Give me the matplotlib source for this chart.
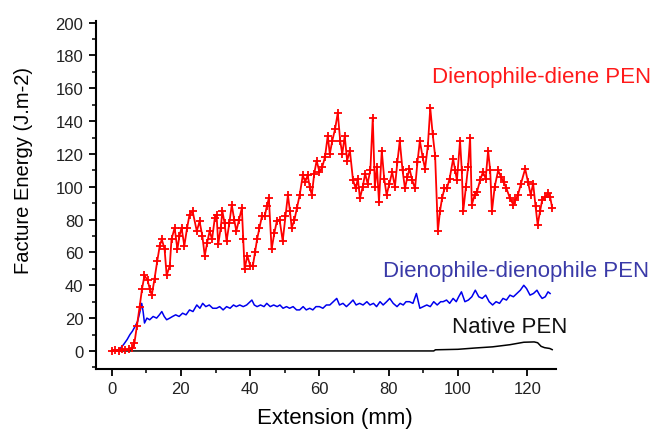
import matplotlib
matplotlib.use("Agg")
import matplotlib.pyplot as plt
from matplotlib.ticker import MultipleLocator

plt.rcParams['font.family'] = ['Liberation Sans', 'DejaVu Sans']

# ---------------- data ----------------
red_x = [0, 1, 2, 3, 4, 5, 6, 6.6, 7.3, 8.1, 8.8, 9.5, 10.4, 11, 11.6, 12.4, 13.2, 13.9, 14.5,
         15.3, 15.9, 16.8, 17.3, 18.2, 19, 19.6, 20.2, 21, 21.8, 22.5, 23.4, 24.6, 25.4, 26.2,
         26.9, 27.6, 28.3, 29, 29.8, 30.3, 30.8, 31.5, 32, 32.6, 33.2, 34, 34.7, 35.4, 36, 36.8,
         37.6, 38, 38.4, 39.2, 40, 40.8, 41.4, 42, 42.7, 43.4, 44.2, 44.8, 45.4, 46.2, 47, 47.7,
         48.5, 49.4, 50.2, 50.9, 51.5, 52, 52.8, 53.5, 54.3, 55.2, 55.9, 56.6, 57.2, 57.8, 58.5,
         59.2, 60, 60.8, 61.6, 62.4, 63, 63.7, 64.5, 65.3, 66, 66.6, 67.3, 68, 68.8, 69.7, 70.5,
         71.1, 71.7, 72.5, 73.2, 73.9, 74.7, 75.4, 76, 76.6, 77.2, 78, 78.7, 79.4, 80.2, 81, 81.8,
         82.5, 83.2, 84, 84.7, 85.4, 86, 86.8, 87.6, 88.3, 89, 89.8, 90.5, 91.3, 92, 92.7, 93.4,
         94.2, 94.8, 95.4, 96.1, 96.8, 97.6, 98.6, 99.2, 99.7, 100.6, 101.1, 101.5, 102.3, 102.9,
         103.5, 104, 104.8, 105.5, 106.4, 107.2, 108, 108.7, 109.3, 109.8, 110.6, 111.6, 112.4,
         113.2, 114, 115, 116, 116.6, 117.3, 118.2, 119.4, 120.2, 121, 121.7, 122.4, 123, 123.7,
         124.3, 125.2, 126, 126.6, 127.2]
red_y = [0, 0.5, 0, 1, 0.5, 1, 1.5, 5, 15, 27, 38, 46, 43, 38, 34, 44, 55, 64, 68,
         62, 46, 52, 68, 75, 62, 70, 75, 64, 75, 83, 85, 73, 79, 70,
         58, 66, 73, 68, 81, 83, 65, 75, 85, 78, 67, 78, 89, 80, 73, 80,
         87, 68, 50, 58, 52, 52, 60, 68, 75, 82, 82, 88, 93, 62, 72, 79,
         80, 67, 82, 95, 85, 75, 80, 87, 95, 107, 103, 107, 100, 95, 108,
         116, 109, 112, 118, 131, 120, 128, 135, 145, 128, 120, 131, 116, 122, 104, 99,
         105, 93, 100, 108, 102, 110, 142, 100, 112, 91, 122, 105, 95, 102, 109, 100,
         115, 128, 110, 99, 106, 111, 104, 99, 115, 128, 118, 111, 125, 148, 132, 119,
         73, 85, 93, 99, 99, 105, 117, 110, 104, 128, 110, 85, 100, 112,
         130, 89, 95, 97, 104, 109, 105, 122, 110, 85, 100, 110, 106,
         103, 99, 93, 89, 92, 95, 102, 111, 103, 95, 102, 88, 77, 85,
         92, 94, 96, 94, 87]

blue_x = [0, 1, 2.3, 3.5, 4.5, 5.3, 6, 6.8, 7.5, 8.2, 8.7, 9.1, 9.5, 10.2, 11, 12, 13, 13.8,
          14.5, 15.2, 15.9, 16.8, 17.6, 18.5, 19.5, 20.5, 21.5, 22.5, 23.5, 24.6, 25.5, 26.3,
          27.2, 28.2, 29.2, 30.3, 31.2, 32.2, 33.2, 34.2, 35.2, 36, 37, 38, 39, 40.5, 41.2, 42,
          43, 44, 44.8, 45.8, 46.8, 47.8, 48.6, 49.5, 50.5, 51.4, 52.4, 53.4, 54.3, 55.3, 56.2,
          57.2, 58.1, 59, 60, 61, 62, 63, 64, 65, 65.8, 66.8, 67.8, 68.8, 69.7, 70.6, 71.6, 72.6,
          73.7, 74.6, 75.6, 76.5, 77.5, 78.4, 79.4, 80.3, 81.3, 82.4, 83.3, 84.2, 85, 86, 87, 88,
          89, 90, 91, 92, 93, 94, 95, 95.7, 96.7, 97.6, 98.6, 99.5, 100.2, 101, 102, 103, 104,
          105, 106, 107, 108, 109, 110, 111, 112, 113, 114, 115, 116, 117, 118, 119, 119.8,
          120.8, 121.8, 122.8, 123.6, 124.3, 125.2, 126, 126.6]
blue_y = [0, 0, 1, 4, 7, 10, 12, 15, 18, 24, 29, 24, 17, 20, 19, 21, 20, 22,
          24, 21, 19, 20, 21, 22, 21, 23, 22, 25, 24, 28, 26, 29,
          27, 28, 26, 26, 27, 25, 27, 26, 28, 27, 28, 27, 28, 31, 28, 27,
          28, 27, 29, 27, 28, 27, 28, 26, 27, 26, 27, 25, 25, 27, 25,
          26, 25, 27, 27, 26, 28, 28, 30, 32, 28, 29, 27, 29, 31, 28, 29, 28,
          30, 28, 29, 27, 30, 28, 30, 32, 29, 27, 29, 28, 30, 30, 29, 35,
          26, 27, 28, 27, 30, 28, 30, 30, 31, 29, 32, 30, 33, 36, 30, 31, 33,
          37, 33, 32, 34, 30, 28, 30, 29, 32, 31, 34, 33, 35, 37, 40, 38,
          34, 35, 37, 34, 32, 33, 36, 35]

black_x = [0, 93, 93.5, 100, 105, 110, 115, 119, 122, 123, 124, 125, 126.5, 127.2]
black_y = [0, 0, 0.7, 1, 1.8, 2.5, 3.8, 5.3, 5.5, 5.0, 2.8, 2.0, 1.5, 0.8]

labels = ["Dienophile-diene PEN", "Dienophile-dienophile PEN", "Native PEN"]
x_label = "Extension (mm)"
y_label = "Facture Energy (J.m-2)"

# ---------------- figure ----------------
W, H = 655, 435
fig = plt.figure(figsize=(W / 100, H / 100), dpi=100)
ax = fig.add_axes([96 / W, 1 - 370 / H, (556 - 96) / W, (370 - 22) / H])

ax.plot(black_x, black_y, color='black', lw=1.1, zorder=2)
ax.plot(blue_x, blue_y, color='#0000ee', lw=1.1, zorder=3)
ax.plot(red_x, red_y, color='#ff0000', lw=1.3, marker='+', ms=5.5, mew=1.3, zorder=4)

ax.set_xlim(-4.5, 128.3)
ax.set_ylim(-11, 201)
ax.xaxis.set_minor_locator(MultipleLocator(10))
ax.yaxis.set_minor_locator(MultipleLocator(10))
ax.set_xticks(range(0, 121, 20))
ax.set_yticks(range(0, 201, 20))

for s in ['top', 'right']:
    ax.spines[s].set_visible(False)
for s in ['left', 'bottom']:
    ax.spines[s].set_linewidth(1.5)
ax.tick_params(which='major', direction='out', length=5, width=1.3, labelsize=12,
               labelcolor='#222222', pad=4)
ax.tick_params(which='minor', direction='out', length=3, width=1.1)

fig.text(257 / W, 1 - 419 / H, x_label, fontsize=16, ha='left', va='center')
fig.text(24 / W, 1 - 171 / H, y_label, fontsize=14.5, ha='center', va='center', rotation=90)

fig.text(432 / W, 1 - 77 / H, labels[0], fontsize=16, color='#ff1a1a', ha='left', va='center')
fig.text(383 / W, 1 - 272 / H, labels[1], fontsize=16, color='#3a3aa8', ha='left', va='center')
fig.text(452 / W, 1 - 328 / H, labels[2], fontsize=16, color='#111111', ha='left', va='center')

fig.savefig("out.png", dpi=100)
